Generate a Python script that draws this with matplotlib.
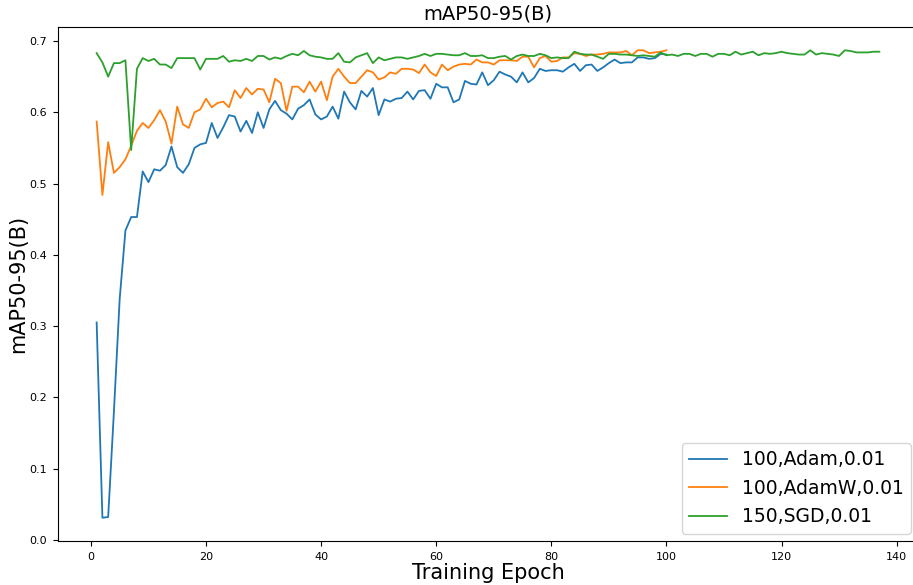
import matplotlib

matplotlib.use("Agg")
import matplotlib.pyplot as plt

# mAP50-95(B) per epoch
adam_map = [
    0.305, 0.031, 0.032, 0.18, 0.338, 0.434, 0.453, 0.453, 0.517, 0.502,
    0.520, 0.518, 0.526, 0.552, 0.523, 0.515, 0.527, 0.550, 0.555, 0.557,
    0.585, 0.564, 0.579, 0.596, 0.594, 0.573, 0.588, 0.571, 0.600, 0.578,
    0.604, 0.616, 0.603, 0.598, 0.590, 0.605, 0.610, 0.618, 0.597, 0.590,
    0.594, 0.608, 0.591, 0.629, 0.614, 0.604, 0.630, 0.622, 0.634, 0.596,
    0.618, 0.615, 0.619, 0.620, 0.629, 0.618, 0.630, 0.631, 0.619, 0.640,
    0.635, 0.635, 0.614, 0.618, 0.644, 0.640, 0.639, 0.656, 0.638, 0.645,
    0.657, 0.653, 0.650, 0.642, 0.656, 0.642, 0.648, 0.661, 0.658, 0.659,
    0.659, 0.657, 0.663, 0.668, 0.658, 0.666, 0.667, 0.658, 0.663, 0.669,
    0.674, 0.669, 0.670, 0.670, 0.677, 0.677, 0.675, 0.676, 0.682, 0.681,
]
adamw_map = [
    0.587, 0.484, 0.558, 0.515, 0.523, 0.534, 0.553, 0.574, 0.585, 0.578,
    0.589, 0.603, 0.587, 0.556, 0.608, 0.583, 0.578, 0.600, 0.604, 0.619,
    0.607, 0.613, 0.615, 0.607, 0.631, 0.620, 0.634, 0.625, 0.633, 0.632,
    0.614, 0.647, 0.641, 0.602, 0.636, 0.636, 0.628, 0.643, 0.629, 0.643,
    0.617, 0.650, 0.661, 0.650, 0.641, 0.641, 0.650, 0.659, 0.656, 0.646,
    0.649, 0.656, 0.654, 0.661, 0.661, 0.660, 0.655, 0.667, 0.656, 0.651,
    0.667, 0.659, 0.664, 0.667, 0.668, 0.667, 0.674, 0.670, 0.670, 0.667,
    0.673, 0.673, 0.673, 0.672, 0.678, 0.678, 0.663, 0.676, 0.679, 0.671,
    0.672, 0.677, 0.677, 0.683, 0.682, 0.679, 0.681, 0.681, 0.682, 0.684,
    0.684, 0.684, 0.686, 0.680, 0.687, 0.687, 0.683, 0.684, 0.685, 0.687,
]
sgd_map = [
    0.683, 0.670, 0.650, 0.669, 0.669, 0.673, 0.547, 0.661, 0.676, 0.672,
    0.675, 0.667, 0.667, 0.662, 0.676, 0.676, 0.676, 0.676, 0.660, 0.675,
    0.675, 0.675, 0.679, 0.671, 0.673, 0.672, 0.675, 0.672, 0.679, 0.679,
    0.674, 0.677, 0.675, 0.679, 0.682, 0.680, 0.686, 0.680, 0.678, 0.677,
    0.675, 0.675, 0.683, 0.671, 0.670, 0.677, 0.680, 0.683, 0.669, 0.677,
    0.673, 0.675, 0.677, 0.677, 0.675, 0.677, 0.679, 0.682, 0.679, 0.682,
    0.682, 0.681, 0.680, 0.680, 0.683, 0.679, 0.679, 0.680, 0.676, 0.676,
    0.678, 0.679, 0.674, 0.679, 0.681, 0.679, 0.679, 0.682, 0.680, 0.676,
    0.677, 0.676, 0.676, 0.685, 0.682, 0.681, 0.681, 0.678, 0.675, 0.682,
    0.682, 0.681, 0.681, 0.680, 0.679, 0.680, 0.679, 0.678, 0.684, 0.680,
    0.681, 0.679, 0.682, 0.682, 0.679, 0.682, 0.682, 0.678, 0.682, 0.682,
    0.680, 0.685, 0.681, 0.683, 0.685, 0.680, 0.683, 0.682, 0.683, 0.685,
    0.683, 0.682, 0.681, 0.681, 0.687, 0.681, 0.683, 0.682, 0.681, 0.679,
    0.687, 0.686, 0.684, 0.684, 0.684, 0.685, 0.685,
]
labels = ["100,Adam,0.01", "100,AdamW,0.01", "150,SGD,0.01"]

fig = plt.figure(figsize=(9.13, 5.85), dpi=100)
ax = fig.add_axes((0.063, 0.075, 0.943, 0.879))

for series, label in zip([adam_map, adamw_map, sgd_map], labels):
    epochs = list(range(1, len(series) + 1))
    ax.plot(epochs, series, linewidth=1.3, label=label)

ax.set_xlim(-5.8, 143.8)
ax.set_title("mAP50-95(B)", fontsize=14, pad=5)
ax.set_xlabel("Training Epoch", fontsize=15, labelpad=1)
ax.set_ylabel("mAP50-95(B)", fontsize=15, labelpad=1)
ax.tick_params(labelsize=8, pad=4)
ax.legend(loc="lower right", fontsize=13.5, borderaxespad=0.4)

fig.savefig("out.png", dpi=100)
plt.close(fig)
